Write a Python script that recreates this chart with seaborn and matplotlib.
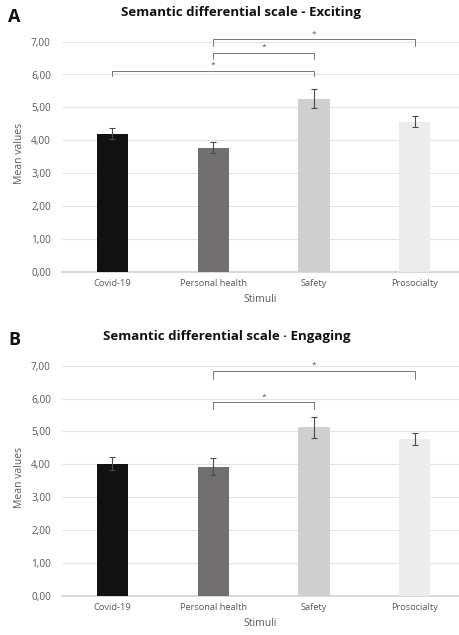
import matplotlib
matplotlib.use("Agg")
import matplotlib.pyplot as plt
import seaborn as sns
import pandas as pd

# data
stimuli = ["Covid-19", "Personal health", "Safety", "Prosocialty"]
exciting_mean = [4.20, 3.78, 5.27, 4.56]
exciting_err = [0.17, 0.17, 0.29, 0.17]
engaging_mean = [4.02, 3.93, 5.12, 4.77]
engaging_err = [0.19, 0.25, 0.31, 0.17]
bar_colors = ["#111111", "#736e6d", "#cfcfcf", "#ececec"]

# significance brackets: (from, to, bracket height, tick bottom, label)
exciting_sig = [(0, 2, 6.12, 5.96, "*"), (1, 2, 6.65, 6.46, "*"), (1, 3, 7.07, 6.88, "*")]
engaging_sig = [(1, 2, 5.88, 5.69, "*"), (1, 3, 6.83, 6.60, "*")]

sns.set_theme(style="white")
plt.rcParams["font.family"] = ["Open Sans", "DejaVu Sans"]

fig = plt.figure(figsize=(4.59, 6.35), dpi=100)
txt = "#595959"


def panel(ax, means, errs, sig, title, title_x, letter, letter_y):
    df = pd.DataFrame({"Stimuli": stimuli, "Mean": means})
    sns.barplot(data=df, x="Stimuli", y="Mean", hue="Stimuli", palette=bar_colors,
                width=0.31, errorbar=None, legend=False, ax=ax, zorder=3,
                linewidth=0)
    ax.errorbar(range(len(stimuli)), means, yerr=errs, fmt="none", ecolor="#4a4a4a",
                elinewidth=0.8, capsize=2.5, capthick=0.8, zorder=4)
    ax.set_ylim(0, 7.2)
    ax.set_xlim(-0.5, 3.44)
    ax.set_yticks(range(8))
    ax.set_yticklabels([f"{v},00" for v in range(8)])
    ax.yaxis.grid(True, color="#e3e3e3", linewidth=0.8, zorder=0)
    ax.set_axisbelow(True)
    for s in ["top", "right", "left"]:
        ax.spines[s].set_visible(False)
    ax.spines["bottom"].set_color("#d4d4d4")
    ax.tick_params(axis="y", labelsize=7.2, colors=txt, length=0, pad=8)
    ax.tick_params(axis="x", labelsize=6.7, colors=txt, length=0, pad=5)
    ax.set_xlabel("Stimuli", fontsize=7.5, color=txt, labelpad=4)
    ax.set_ylabel("Mean values", fontsize=7.5, color=txt, labelpad=4)
    for a, b, h, low, lab in sig:
        ax.plot([a, a, b, b], [low, h, h, low], color="#777777", linewidth=0.7,
                clip_on=False, zorder=5)
        ax.text((a + b) / 2, h + 0.06, lab, ha="center", va="bottom", fontsize=6,
                color="#555555")
    ax.set_title(title, fontsize=9.5, fontweight="bold", color="#111111", pad=14,
                 x=title_x)
    fig.text(0.018, letter_y, letter, fontsize=13, fontweight="bold",
             color="#111111", va="top")


ax1 = fig.add_axes([62 / 459, 1 - 272 / 635, 397 / 459, 237 / 635])
panel(ax1, exciting_mean, exciting_err, exciting_sig,
      "Semantic differential scale - Exciting", 0.45, "A", 1 - 8 / 635)
ax2 = fig.add_axes([62 / 459, 1 - 596 / 635, 397 / 459, 237 / 635])
panel(ax2, engaging_mean, engaging_err, engaging_sig,
      "Semantic differential scale · Engaging", 0.415, "B", 1 - 331 / 635)

fig.savefig("out.png", dpi=100)
